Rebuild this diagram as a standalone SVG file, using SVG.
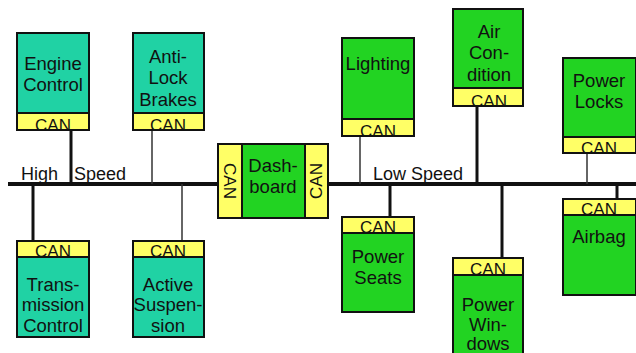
<svg xmlns="http://www.w3.org/2000/svg" width="636" height="353" viewBox="0 0 636 353">
<style>
.t{font-family:"Liberation Sans",Arial,sans-serif;font-size:18.5px;fill:#111;text-anchor:middle}
.c{font-family:"Liberation Sans",Arial,sans-serif;font-size:17px;fill:#111;text-anchor:middle}
.lb{font-family:"Liberation Sans",Arial,sans-serif;font-size:18px;fill:#111}
.teal{fill:#20d2a4;stroke:#111;stroke-width:2}
.green{fill:#22d322;stroke:#111;stroke-width:2}
.can{fill:#ffff66;stroke:#111;stroke-width:2}
.thick{stroke:#111;stroke-width:3;fill:none}
.thin{stroke:#333;stroke-width:1.5;fill:none}
</style>
<defs>
<clipPath id="clipPW"><rect x="440" y="250" width="100" height="103"/></clipPath>
</defs>
<rect width="636" height="353" fill="#fff"/>
<g id="connectors">
<line x1="8" y1="184" x2="636" y2="184" stroke="#111" stroke-width="4"/>
<line class="thick" x1="71" y1="130" x2="71" y2="184"/>
<line class="thin" x1="152" y1="130" x2="152" y2="184"/>
<line class="thick" x1="33" y1="184" x2="33" y2="241"/>
<line class="thin" x1="182" y1="184" x2="182" y2="241"/>
<line class="thin" x1="360" y1="136" x2="360" y2="184"/>
<line class="thick" x1="477" y1="106" x2="477" y2="184"/>
<line class="thick" x1="390" y1="184" x2="390" y2="217"/>
<line class="thick" x1="502" y1="184" x2="502" y2="258"/>
<line class="thin" x1="587" y1="153" x2="587" y2="184"/>
<line class="thick" x1="617" y1="184" x2="617" y2="199"/>
</g>
<g id="labels">
<text class="lb" x="21" y="180">High</text>
<text class="lb" x="74" y="180">Speed</text>
<text class="lb" x="373" y="180">Low Speed</text>
</g>
<g id="engine-control">
<rect class="teal" x="17" y="33" width="72" height="97"/>
<rect class="can" x="17" y="113" width="72" height="17"/>
<text class="t" x="53" y="70">Engine</text>
<text class="t" x="53" y="91">Control</text>
<text class="c" x="53" y="131">CAN</text>
</g>
<g id="anti-lock-brakes">
<rect class="teal" x="133" y="33" width="71" height="97"/>
<rect class="can" x="133" y="113" width="71" height="17"/>
<text class="t" x="168" y="63">Anti-</text>
<text class="t" x="168" y="84">Lock</text>
<text class="t" x="168" y="106">Brakes</text>
<text class="c" x="168" y="131">CAN</text>
</g>
<g id="transmission-control">
<rect class="teal" x="17" y="241" width="72" height="96"/>
<rect class="can" x="17" y="241" width="72" height="16"/>
<text class="c" x="53" y="257">CAN</text>
<text class="t" x="53" y="291">Trans-</text>
<text class="t" x="53" y="311">mission</text>
<text class="t" x="53" y="332">Control</text>
</g>
<g id="active-suspension">
<rect class="teal" x="133" y="241" width="71" height="96"/>
<rect class="can" x="133" y="241" width="71" height="16"/>
<text class="c" x="168" y="257">CAN</text>
<text class="t" x="168" y="291">Active</text>
<text class="t" x="168" y="311">Suspen-</text>
<text class="t" x="168" y="332">sion</text>
</g>
<g id="dashboard">
<rect class="green" x="218" y="144" width="110" height="74" stroke="#333" stroke-width="1.5"/>
<rect class="can" x="218" y="144" width="24" height="74" stroke-width="1.5"/>
<rect class="can" x="305" y="144" width="23" height="74" stroke-width="1.5"/>
<text class="t" x="273" y="172">Dash-</text>
<text class="t" x="273" y="193">board</text>
<text class="c" transform="translate(224,181) rotate(90)" x="0" y="0">CAN</text>
<text class="c" transform="translate(322,181) rotate(-90)" x="0" y="0">CAN</text>
</g>
<g id="lighting">
<rect class="green" x="342" y="38" width="72" height="98"/>
<rect class="can" x="342" y="119" width="72" height="17"/>
<text class="t" x="378" y="70">Lighting</text>
<text class="c" x="378" y="137">CAN</text>
</g>
<g id="air-condition">
<rect class="green" x="453" y="9" width="70" height="97"/>
<rect class="can" x="453" y="88" width="70" height="18"/>
<text class="t" x="489" y="38">Air</text>
<text class="t" x="489" y="59">Con-</text>
<text class="t" x="489" y="81">dition</text>
<text class="c" x="489" y="107">CAN</text>
</g>
<g id="power-seats">
<rect class="green" x="342" y="217" width="72" height="95"/>
<rect class="can" x="342" y="217" width="72" height="16"/>
<text class="c" x="378" y="233">CAN</text>
<text class="t" x="378" y="263">Power</text>
<text class="t" x="378" y="284">Seats</text>
</g>
<g id="power-windows">
<rect class="green" x="453" y="258" width="70" height="100"/>
<rect class="can" x="453" y="258" width="70" height="17"/>
<text class="c" x="488" y="275">CAN</text>
<text class="t" x="488" y="311">Power</text>
<text class="t" x="488" y="331">Win-</text>
<text class="t" x="488" y="350">dows</text>
</g>
<g id="power-locks">
<rect class="green" x="563" y="58" width="73" height="95"/>
<rect class="can" x="563" y="137" width="73" height="16"/>
<text class="t" x="599" y="87">Power</text>
<text class="t" x="599" y="108">Locks</text>
<text class="c" x="599" y="154">CAN</text>
</g>
<g id="airbag">
<rect class="green" x="563" y="199" width="73" height="96"/>
<rect class="can" x="563" y="199" width="73" height="16"/>
<text class="c" x="599" y="215">CAN</text>
<text class="t" x="599" y="243">Airbag</text>
</g>
</svg>
